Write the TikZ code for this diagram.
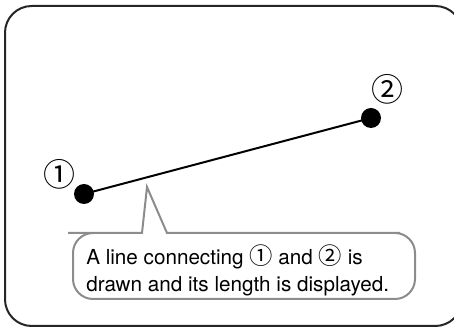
\documentclass[tikz,border=0pt]{standalone}
\usepackage{fontspec}
\setmainfont{TeX Gyre Heros}
\newfontfamily\circfont{Noto Sans CJK JP}
\newcommand{\cone}{{\circfont\fontsize{17.5}{17.5}\selectfont ①}}
\newcommand{\ctwo}{{\circfont\fontsize{17.5}{17.5}\selectfont ②}}
\tikzset{
  dot/.style={circle, fill=black, inner sep=0pt, minimum size=15pt},
  numlabel/.style={inner sep=0pt, font=\fontsize{24}{24}\selectfont},
  bubble/.style={draw=black!45, line width=1.5pt},
  msgtext/.style={inner sep=0pt, align=left, anchor=north west, font=\fontsize{15.5}{20.5}\selectfont}
}

\begin{document}
\begin{tikzpicture}[x=0.75pt, y=-0.75pt]
  \useasboundingbox (0,0) rectangle (454,327);
  \clip (0,0) rectangle (454,327);
  % outer frame
  \draw[line width=1.5pt, black!85, rounded corners=20] (5,6) rectangle (462,326);
  % the two points and the line between them
  \node[dot] (p1) at (84,194) {};
  \node[dot] (p2) at (371,118) {};
  \node[numlabel] (l1) at (59,174) {{\circfont ①}};
  \node[numlabel] (l2) at (387,89) {{\circfont ②}};
  \draw[line width=1.5pt] (p1.center) -- (p2.center);
  % speech bubble
  \coordinate (tip) at (147,187);
  \draw[bubble] (tip) -- (167,233) -- (400,233)
    [rounded corners=15] -- (415,233) -- (415,299) -- (73,299) -- (73,233) -- (88,233)
    [sharp corners] -- (142,233) -- cycle;
  \node[msgtext] (msg) at (86,244) {A line connecting \cone{} and \ctwo{} is\\drawn and its length is displayed.};
\end{tikzpicture}
\end{document}
